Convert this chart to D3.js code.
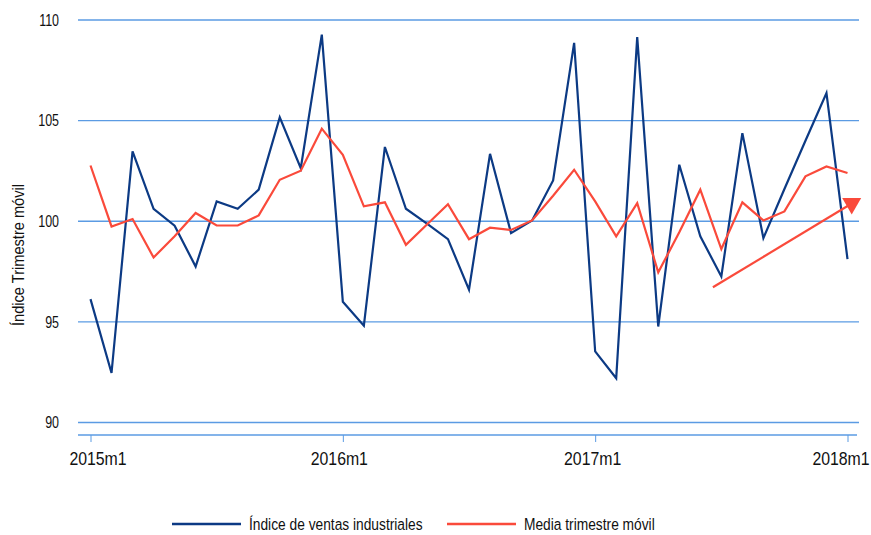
<!DOCTYPE html>
<html>
<head>
<meta charset="utf-8">
<script src="https://cdn.jsdelivr.net/npm/d3@7"></script>
<style>
  body { margin: 0; background: #fff; }
  text { font-family: "Liberation Sans", Arial, sans-serif; fill: #111; }
</style>
</head>
<body>
<div id="chart"></div>
<script>
// months 2015m1 .. 2018m1 (index 0..36)
const months = d3.range(37).map(i => `${2015 + Math.floor(i / 12)}m${(i % 12) + 1}`);
const tickLabels = ["2015m1", "2016m1", "2017m1", "2018m1"];
const yTicks = [90, 95, 100, 105, 110];

const ventas = [96.13, 92.46, 103.47, 100.62, 99.78, 97.75, 100.98, 100.62, 101.57, 105.16, 102.64, 109.27,
  96.0, 94.81, 103.69, 100.62, 99.88, 99.11, 96.6, 103.35, 99.41, 100.04, 102.03, 108.86,
  93.53, 92.2, 109.15, 94.77, 102.81, 99.25, 97.26, 104.38, 99.16, 101.6, 104.0, 106.37,
  98.12];
const media = [102.77, 99.74, 100.11, 98.2, 99.25, 100.41, 99.79, 99.79, 100.29, 102.06, 102.51, 104.6,
  103.3, 100.74, 100.94, 98.83, 99.84, 100.85, 99.11, 99.68, 99.57, 100.04, 101.27, 102.56,
  100.99, 99.25, 100.9, 97.46, 99.45, 101.57, 98.62, 100.94, 100.04, 100.49, 102.23, 102.72,
  102.4];
// trend arrow: [month index, value]
const trend = [[29.6, 96.72], [36.2, 100.88]];

const seriesNames = ["Índice de ventas industriales", "Media trimestre móvil"];
const seriesColors = ["#0c3a84", "#fa4a3b"];

const width = 871, height = 535;
const gridColor = "#5b9be3";

const svg = d3.select("#chart")
  .append("svg")
  .attr("width", width)
  .attr("height", height)
  .attr("viewBox", [0, 0, width, height]);

const x = d3.scaleLinear()
  .domain([0, 36])
  .range([90.5, 847.5]);

const y = d3.scaleLinear()
  .domain([90, 110])
  .range([422.5, 20]);

// grid lines + y labels
svg.append("g")
  .selectAll("line")
  .data(yTicks)
  .join("line")
  .attr("x1", 78).attr("x2", 859)
  .attr("y1", d => y(d)).attr("y2", d => y(d))
  .attr("stroke", gridColor)
  .attr("stroke-width", 1.3);

// the reference uses a condensed face, so squeeze text horizontally
svg.append("g")
  .selectAll("text")
  .data(yTicks)
  .join("text")
  .attr("transform", d => `translate(59,${y(d)}) scale(0.78,1)`)
  .attr("dy", "0.36em")
  .attr("text-anchor", "end")
  .style("font-size", "16px")
  .text(d => d);

// x axis
const labelNudge = [7, -4, -3, -7];
svg.append("g")
  .attr("transform", "translate(0,435)")
  .call(d3.axisBottom(x)
    .tickValues(tickLabels.map(t => months.indexOf(t)))
    .tickFormat(i => months[i])
    .tickSize(7)
    .tickPadding(10)
    .tickSizeOuter(0))
  .call(g => g.select(".domain").attr("d", "M78,0H857").attr("stroke", gridColor).attr("stroke-width", 1.3))
  .call(g => g.selectAll(".tick line").attr("stroke", gridColor))
  .call(g => g.selectAll(".tick text")
    .attr("fill", "#111")
    .attr("y", 0)
    .attr("dy", "0.71em")
    .attr("transform", (d, i) => `translate(${labelNudge[i]},17) scale(0.88,1)`)
    .style("font-size", "18px")
    .style("font-family", "'Liberation Sans', Arial, sans-serif"));

// y axis title
svg.append("text")
  .attr("transform", "translate(24,255) rotate(-90) scale(0.86,1)")
  .attr("text-anchor", "middle")
  .style("font-size", "17px")
  .text("Índice Trimestre móvil");

const line = d3.line()
  .x((d, i) => x(i))
  .y(d => y(d));

svg.append("path")
  .datum(ventas)
  .attr("fill", "none")
  .attr("stroke", seriesColors[0])
  .attr("stroke-width", 2.2)
  .attr("d", line);

svg.append("path")
  .datum(media)
  .attr("fill", "none")
  .attr("stroke", seriesColors[1])
  .attr("stroke-width", 2.2)
  .attr("d", line);

// trend arrow
svg.append("path")
  .datum(trend)
  .attr("fill", "none")
  .attr("stroke", seriesColors[1])
  .attr("stroke-width", 2.2)
  .attr("d", d3.line().x(d => x(d[0])).y(d => y(d[1])));

const end = trend[trend.length - 1];
svg.append("path")
  .attr("d", d3.symbol(d3.symbolTriangle, 156))
  .attr("transform", `translate(${x(end[0])},${y(end[1])}) rotate(180)`)
  .attr("fill", seriesColors[1]);

// legend
const legendX = [172, 447];
const legend = svg.append("g")
  .selectAll("g")
  .data(seriesNames)
  .join("g")
  .attr("transform", (d, i) => `translate(${legendX[i]},524)`);

legend.append("line")
  .attr("x1", 0).attr("x2", 69)
  .attr("stroke", (d, i) => seriesColors[i])
  .attr("stroke-width", 2.6);

legend.append("text")
  .attr("transform", "translate(77,0) scale(0.81,1)")
  .attr("dy", "0.36em")
  .style("font-size", "17px")
  .text(d => d);
</script>
</body>
</html>
